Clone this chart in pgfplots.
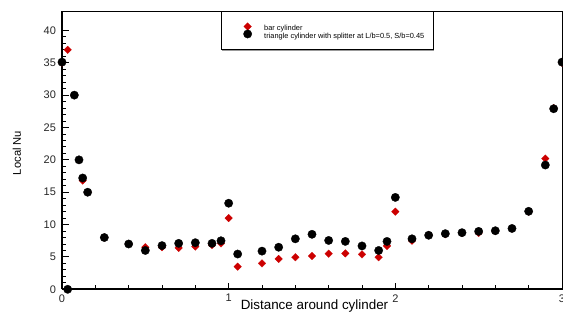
\documentclass[border=0pt]{standalone}
\usepackage{fontspec}
\setmainfont{Liberation Sans}
\usepackage{pgfplots}
\pgfplotsset{compat=1.18}
\usetikzlibrary{shadows}
\definecolor{barred}{RGB}{204,0,0}
\begin{document}
\begin{tikzpicture}
\useasboundingbox (-62pt,-26.7pt) rectangle (501pt,289.3pt);
\begin{axis}[
  at={(0pt,0pt)}, anchor=south west,
  scale only axis, width=500pt, height=278.3pt,
  xmin=0, xmax=3, ymin=0, ymax=43,
  clip=false,
  axis line style={line width=0.6pt},
  xtick={0,1,2,3}, minor x tick num=4,
  ytick={0,5,...,40}, minor y tick num=4,
  tick align=inside,
  tick pos=left,
  major tick length=6.5pt, minor tick length=3.8pt,
  tick style={line width=0.9pt, black},
  /pgf/number format/assume math mode=true,
  tick label style={font=\fontsize{11}{13}\selectfont, text=black!85},
  yticklabel style={xshift=-2.5pt},
  xticklabel style={yshift=-1.5pt},
  xlabel={Distance around cylinder},
  xlabel style={at={(axis description cs:0.505,-0.0708)}, anchor=base, font=\fontsize{13.4}{15}\selectfont},
  ylabel={Local Nu},
  ylabel style={at={(axis description cs:-0.082,0.49)}, anchor=base, font=\fontsize{11.2}{13}\selectfont},
  legend cell align=left,
  legend style={at={(rel axis cs:0.3174,1)}, anchor=north west, draw=black, line width=0.5pt, fill=white,
    inner xsep=9pt, inner ysep=9.8pt, row sep=-4pt, column sep=0pt,
    nodes={inner sep=0pt}, font=\fontsize{7.4}{9}\selectfont,
    drop shadow={shadow xshift=1.2pt, shadow yshift=-1.2pt, fill=gray!80, opacity=1}},
  legend image code/.code={\pgfpathrectangle{\pgfpoint{-17.7pt}{-1pt}}{\pgfpoint{34.3pt}{9pt}}\pgfusepath{use as bounding box}\draw[#1] plot coordinates {(0pt,2.5pt)};},
]
\draw[line width=1.8pt] (rel axis cs:0,0) -- (rel axis cs:1,0);
\draw[line width=1.8pt] (rel axis cs:0,0) -- (rel axis cs:0,1);
\addplot[only marks, mark=square*, mark size=2.7pt, mark options={rotate=45, fill=barred, draw=barred, line width=0.2pt}] coordinates {
(0.0,35) (0.034,37.0) (0.074,30) (0.102,20) (0.124,16.8) (0.154,15) (0.254,8) (0.40,7)
(0.50,6.5) (0.60,6.5) (0.70,6.4) (0.80,6.6) (0.90,6.85) (0.954,7.1) (1.0,11.0) (1.054,3.5)
(1.20,4.0) (1.30,4.7) (1.40,4.95) (1.50,5.15) (1.60,5.5) (1.70,5.55) (1.80,5.4) (1.90,4.95)
(1.95,6.7) (2.0,12.0) (2.10,7.5) (2.20,8.4) (2.30,8.5) (2.40,8.7) (2.50,8.7) (2.60,9.0)
(2.70,9.4) (2.80,12) (2.90,20.2) (2.95,28) (3.0,35)
};
\addlegendentry{bar cylinder}
\addplot[only marks, mark=*, mark size=4.2pt, mark options={fill=black, draw=black, line width=0.3pt}] coordinates {
(0.0,35.1) (0.034,0) (0.074,30) (0.102,20) (0.124,17.2) (0.154,15) (0.254,8) (0.40,7)
(0.50,6) (0.60,6.75) (0.70,7.1) (0.80,7.2) (0.90,7.1) (0.954,7.5) (1.0,13.3) (1.054,5.45)
(1.20,5.9) (1.30,6.5) (1.40,7.8) (1.50,8.5) (1.60,7.55) (1.70,7.4) (1.80,6.7) (1.90,6.0)
(1.95,7.4) (2.0,14.2) (2.10,7.8) (2.20,8.35) (2.30,8.6) (2.40,8.75) (2.50,8.95) (2.60,9.05)
(2.70,9.4) (2.80,12.05) (2.90,19.2) (2.95,27.9) (3.0,35.1)
};
\addlegendentry{triangle cylinder with splitter at L/b=0.5, S/b=0.45}
\end{axis}
\end{tikzpicture}
\end{document}
